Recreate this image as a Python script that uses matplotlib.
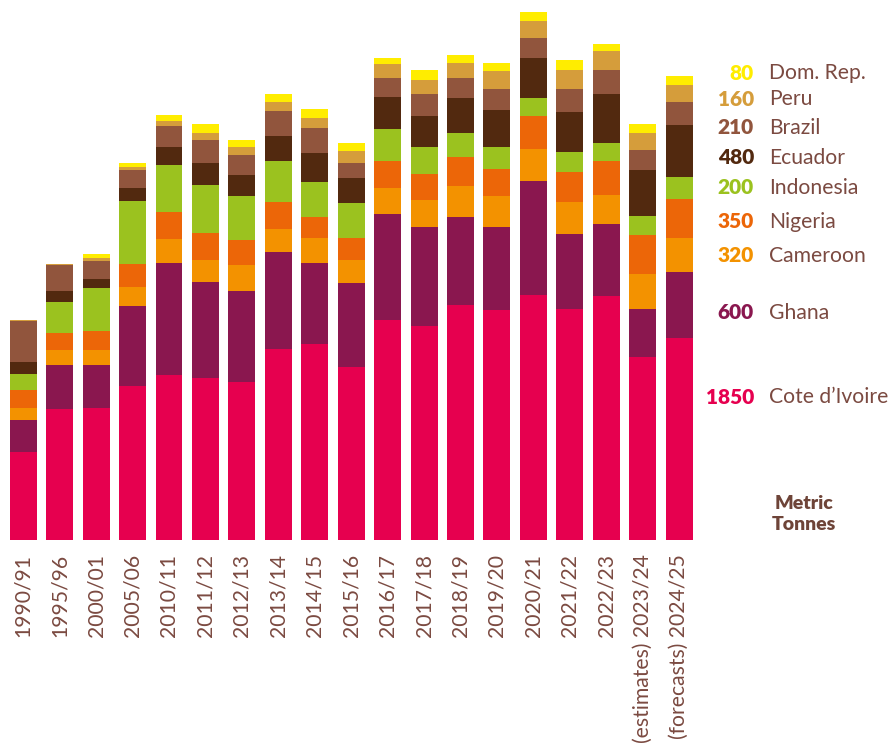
import matplotlib.pyplot as plt
import numpy as np

# ===================================================================
# DATA (thousand metric tonnes)
# ===================================================================
seasons = ["1990/91", "1995/96", "2000/01", "2005/06", "2010/11", "2011/12",
           "2012/13", "2013/14", "2014/15", "2015/16", "2016/17", "2017/18",
           "2018/19", "2019/20", "2020/21", "2021/22", "2022/23",
           "(estimates) 2023/24", "(forecasts) 2024/25"]

cote_divoire = [805, 1200, 1210, 1410, 1510, 1485, 1450, 1750, 1795, 1585,
                2015, 1960, 2155, 2105, 2245, 2115, 2235, 1675, 1850]
ghana = [295, 405, 395, 735, 1025, 880, 835, 890, 740, 770,
         970, 905, 805, 760, 1045, 685, 660, 440, 600]
cameroon = [110, 135, 135, 175, 220, 200, 230, 210, 230, 210,
            240, 245, 285, 285, 295, 295, 265, 320, 320]
nigeria = [165, 155, 175, 210, 245, 245, 230, 245, 190, 200,
           245, 245, 265, 245, 295, 275, 310, 355, 350]
indonesia = [145, 285, 395, 575, 430, 440, 410, 375, 320, 320,
             295, 245, 220, 200, 165, 185, 165, 175, 200]
ecuador = [110, 100, 80, 120, 165, 205, 190, 230, 265, 230,
           295, 285, 320, 340, 365, 365, 450, 420, 480]
brazil = [375, 240, 165, 165, 200, 210, 185, 230, 230, 135,
          175, 200, 185, 200, 190, 210, 220, 185, 210]
peru = [8, 9, 27, 27, 46, 64, 73, 82, 92, 110,
        120, 128, 137, 156, 156, 174, 174, 156, 160]
dom_rep = [0, 0, 37, 37, 55, 82, 64, 73, 82, 73,
           55, 92, 73, 73, 82, 92, 64, 82, 80]

countries = ["Cote d\u2019Ivoire", "Ghana", "Cameroon", "Nigeria", "Indonesia",
             "Ecuador", "Brazil", "Peru", "Dom. Rep."]
legend_values = ["1850", "600", "320", "350", "200", "480", "210", "160", "80"]
colors = ["#E6004F", "#8A174F", "#F39200", "#EC6608", "#9BC21F",
          "#52290F", "#91553D", "#D59D3B", "#FFED00"]

series = [cote_divoire, ghana, cameroon, nigeria, indonesia,
          ecuador, brazil, peru, dom_rep]

TEXT_COLOR = "#7B4A41"
plt.rcParams['font.family'] = ['Lato', 'DejaVu Sans']

# ===================================================================
# STACKED BARS
# ===================================================================
W, H = 893, 744
fig = plt.figure(figsize=(W / 100, H / 100), dpi=100)

px_per_unit = 202 / 1850.0
ax_h_px = 540
ax = fig.add_axes([5 / W, (H - 540) / H, 692.4 / W, ax_h_px / H])

x = np.arange(len(seasons))
bottom = np.zeros(len(seasons))
for vals, col in zip(series, colors):
    vals = np.array(vals, dtype=float)
    ax.bar(x, vals, bottom=bottom, width=0.74, color=col, linewidth=0)
    bottom += vals

ax.set_xlim(-0.5, len(seasons) - 0.5)
ax.set_ylim(0, ax_h_px / px_per_unit)
ax.set_yticks([])
ax.set_xticks(x)
ax.set_xticklabels(seasons, rotation=90, fontsize=15.2, color=TEXT_COLOR)
ax.tick_params(axis='x', length=0, pad=10)
for s in ax.spines.values():
    s.set_visible(False)

# ===================================================================
# RIGHT-HAND LEGEND (values for 2024/25)
# ===================================================================
legend_y = [397, 313, 256, 222, 188, 158, 128, 99, 73]
for name, val, col, yp in zip(countries, legend_values, colors, legend_y):
    fy = 1 - yp / H
    fig.text(754 / W, fy, val, color=col, fontsize=15, fontweight='heavy',
             ha='right', va='center')
    fig.text(769 / W, fy, name, color=TEXT_COLOR, fontsize=15.2,
             ha='left', va='center')

fig.text(804 / W, 1 - 514 / H, "Metric\nTonnes", color="#6E4438", fontsize=14,
         fontweight='heavy', ha='center', va='center', linespacing=1.25)

fig.savefig("out.png", dpi=100)
